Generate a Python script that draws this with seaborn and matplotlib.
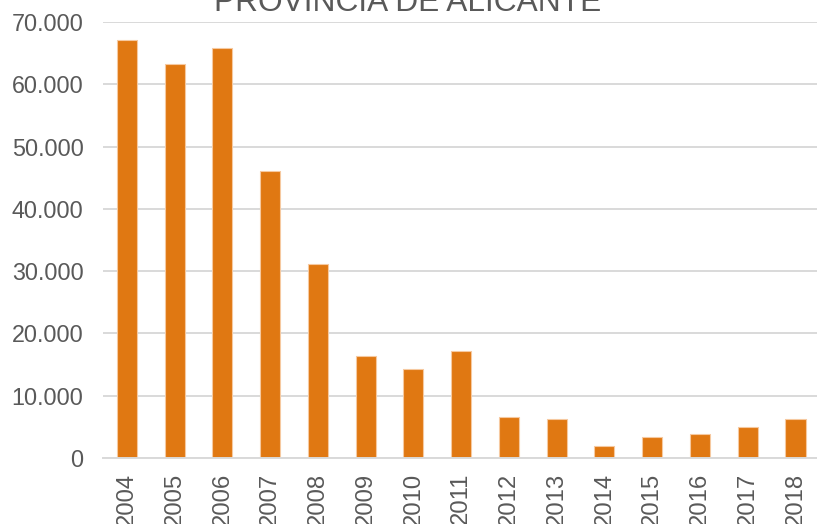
import matplotlib
matplotlib.use("Agg")
import matplotlib.pyplot as plt
from matplotlib.ticker import FuncFormatter, MultipleLocator
import seaborn as sns
import pandas as pd

years = ["2004", "2005", "2006", "2007", "2008", "2009", "2010", "2011",
         "2012", "2013", "2014", "2015", "2016", "2017", "2018"]
values = [67100, 63200, 65800, 46000, 31200, 16300, 14300, 17200,
          6500, 6250, 1860, 3400, 3900, 5000, 6250]
title = "PROVINCIA DE ALICANTE"

sns.set_theme(style="whitegrid")
plt.rcParams["font.family"] = ["Liberation Sans", "DejaVu Sans"]

data = pd.DataFrame({"year": years, "value": values})

fig = plt.figure(figsize=(8.17, 5.24), dpi=100)
ax = fig.add_axes([0.126, 0.126, 0.874, 0.832])

sns.barplot(data=data, x="year", y="value", color="#E07812", width=0.42,
            edgecolor="#F6C9A0", linewidth=0.8, saturation=1, ax=ax)

ax.set_ylim(0, 70000)
ax.set_xlim(-0.5, 14.45)
ax.yaxis.set_major_locator(MultipleLocator(10000))
ax.yaxis.set_major_formatter(FuncFormatter(lambda v, p: f"{int(v):,}".replace(",", ".")))
ax.grid(axis="y", color="#D9D9D9", linewidth=1.4)
ax.grid(axis="x", visible=False)
for s in ["top", "right", "left"]:
    ax.spines[s].set_visible(False)
ax.spines["bottom"].set_color("#D9D9D9")
ax.spines["bottom"].set_linewidth(1.4)
ax.set_xlabel("")
ax.set_ylabel("")
ax.tick_params(axis="y", labelsize=16.8, labelcolor="#595959", pad=14, length=0)
ax.tick_params(axis="x", labelsize=17.2, labelcolor="#595959", rotation=90, pad=10.8, length=0)
ax.set_axisbelow(True)

fig.text(408 / 817, (524 - 11) / 524, title, ha="center", va="baseline",
         fontsize=22.8, color="#595959")

fig.savefig("out.png", dpi=100)
